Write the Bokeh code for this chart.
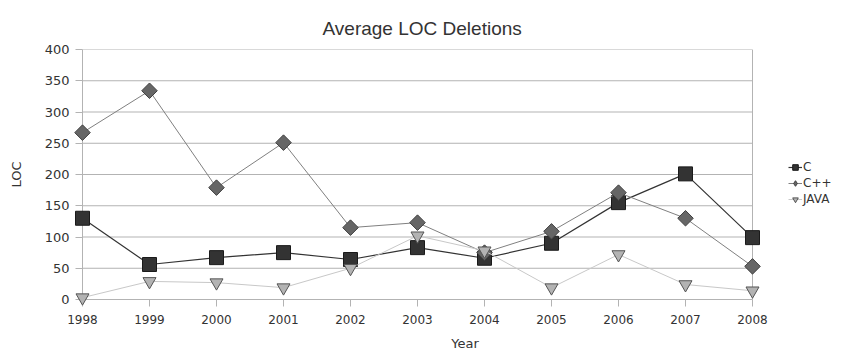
from bokeh.plotting import figure
from bokeh.models import Legend, LegendItem, Range1d, FixedTicker
from bokeh.embed import file_html
from bokeh.resources import INLINE

years = [1998, 1999, 2000, 2001, 2002, 2003, 2004, 2005, 2006, 2007, 2008]
c_vals = [130, 56, 67, 75, 64, 83, 66, 90, 155, 201, 99]
cpp_vals = [267, 334, 179, 251, 115, 123, 75, 109, 171, 130, 53]
java_vals = [3, 29, 27, 19, 50, 102, 78, 19, 72, 24, 14]
y_ticks = [0, 50, 100, 150, 200, 250, 300, 350, 400]

FONT = "DejaVu Sans"
GRID = "#b3b3b3"

x0, x1 = years[0], years[-1]
# plot area spans 670 px for the years; extra 95 px on the right hold the legend
x_extra = (x1 - x0) * 95 / 670

p = figure(width=847, height=356, output_backend="svg", toolbar_location=None,
           x_range=Range1d(x0, x1 + x_extra), y_range=Range1d(y_ticks[0], y_ticks[-1]),
           min_border_left=82, min_border_right=0, min_border_top=49, min_border_bottom=57)

p.title.text = "Average LOC Deletions"
p.title.align = "left"
p.title.offset = 240
p.title.vertical_align = "top"
p.title.text_font = "Liberation Sans"
p.title.text_font_size = "19px"
p.title.text_font_style = "normal"
p.title.text_color = "#333333"
p.title.standoff = 18

p.outline_line_color = None
p.background_fill_color = "white"
p.border_fill_color = "white"
p.xgrid.grid_line_color = None
p.ygrid.grid_line_color = None

# horizontal grid lines and right border of the plot area
p.segment(x0=[x0] * len(y_ticks), x1=[x1] * len(y_ticks), y0=y_ticks, y1=y_ticks,
          line_color=GRID, line_width=1, level="underlay")
p.segment(x0=[x1], x1=[x1], y0=[y_ticks[0]], y1=[y_ticks[-1]],
          line_color=GRID, line_width=1, level="underlay")

p.xaxis.ticker = FixedTicker(ticks=years)
p.yaxis.ticker = FixedTicker(ticks=y_ticks)
p.xaxis.bounds = (x0, x1)
for ax in (p.xaxis[0], p.yaxis[0]):
    ax.axis_line_color = GRID
    ax.major_tick_line_color = GRID
    ax.minor_tick_line_color = None
    ax.major_tick_in = 0
    ax.major_tick_out = 7
    ax.major_label_text_font = FONT
    ax.major_label_text_color = "#333333"
    ax.axis_label_text_font = FONT
    ax.axis_label_text_font_size = "13px"
    ax.axis_label_text_font_style = "normal"
    ax.axis_label_text_color = "#333333"
p.xaxis.major_label_text_font_size = "12px"
p.yaxis.major_label_text_font_size = "13px"
p.xaxis.axis_label = "Year"
p.yaxis.axis_label = "LOC"
p.xaxis.major_label_standoff = 8
p.yaxis.major_label_standoff = 6
p.xaxis.axis_label_standoff = 9
p.yaxis.axis_label_standoff = 18

l1 = p.line(years, c_vals, line_color="#333333", line_width=1.2, level="overlay")
m1 = p.scatter(years, c_vals, marker="square", size=14, fill_color="#333333",
               line_color="#1a1a1a", level="overlay")
l2 = p.line(years, cpp_vals, line_color="#808080", line_width=1.0, level="overlay")
m2 = p.scatter(years, cpp_vals, marker="square", angle=0.785398, size=11,
               fill_color="#666666", line_color="#404040", level="overlay")
m2_leg = p.scatter(x=[float("nan")], y=[float("nan")], marker="diamond", size=14,
                   fill_color="#666666", line_color="#404040")
l3 = p.line(years, java_vals, line_color="#c8c8c8", line_width=1.0, level="overlay")
m3 = p.scatter(years, java_vals, marker="inverted_triangle", size=13, fill_color="#b3b3b3",
               line_color="#555555", level="overlay")

legend = Legend(items=[LegendItem(label="C", renderers=[l1, m1]),
                       LegendItem(label="C++", renderers=[l2, m2_leg]),
                       LegendItem(label="JAVA", renderers=[l3, m3])],
                location=(706, 93), glyph_width=14, glyph_height=14,
                label_text_font=FONT, label_text_font_size="12px", label_text_color="#333333",
                spacing=2, padding=0, margin=0, border_line_color=None,
                background_fill_alpha=0, label_standoff=1, label_height=14)
p.add_layout(legend)

open("out.html", "w").write(file_html(p, INLINE))
